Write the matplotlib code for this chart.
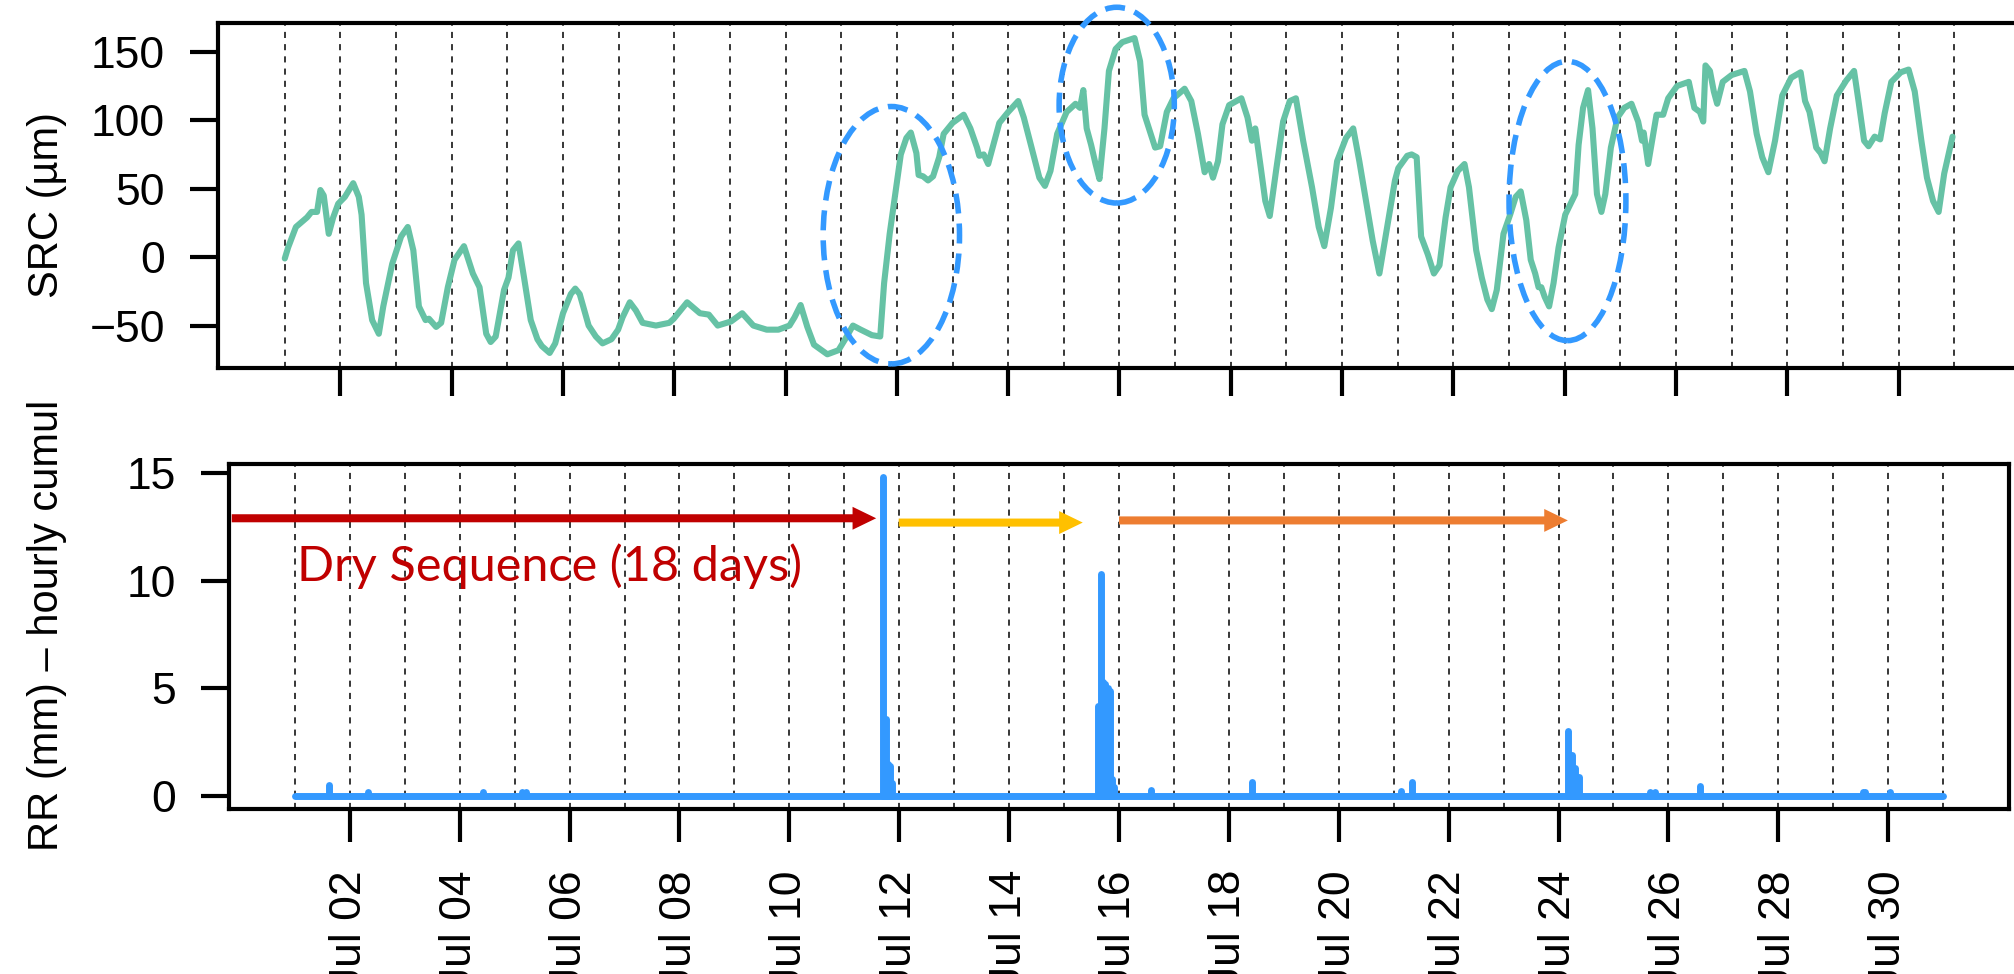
import matplotlib
matplotlib.use("Agg")
import matplotlib.pyplot as plt
from matplotlib.patches import Ellipse, FancyArrowPatch
import numpy as np

# ---------------- data (days since Jul 01 00:00) ----------------
src_day = [0, 0.06, 0.2, 0.4, 0.48, 0.58, 0.64, 0.7, 0.79, 0.87, 0.96, 1.08, 1.23, 1.33, 1.38,
           1.46, 1.57, 1.69, 1.77, 1.93, 2.09, 2.21, 2.31, 2.41, 2.53, 2.59, 2.72, 2.81, 2.93,
           3.05, 3.22, 3.38, 3.5, 3.62, 3.7, 3.79, 3.94, 4.02, 4.1, 4.2, 4.3, 4.42, 4.54, 4.62,
           4.76, 4.86, 5.0, 5.14, 5.22, 5.3, 5.46, 5.59, 5.71, 5.87, 5.99, 6.07, 6.2, 6.31, 6.43,
           6.67, 6.91, 6.99, 7.23, 7.46,
           7.62, 7.78, 8.02, 8.22, 8.42, 8.66, 8.87, 9.07, 9.16, 9.27, 9.39, 9.51, 9.75, 9.95,
           10.07, 10.21, 10.35, 10.55, 10.7, 10.77, 10.87, 10.97, 11.07, 11.17, 11.25, 11.35,
           11.39, 11.47, 11.56, 11.65, 11.76, 11.84, 12.0, 12.2, 12.32, 12.44, 12.48, 12.56,
           12.64, 12.72, 12.84, 13.0, 13.18, 13.28, 13.44, 13.56, 13.66, 13.76, 13.88, 14.05,
           14.21, 14.29, 14.35, 14.41, 14.49, 14.57, 14.64, 14.73, 14.81, 14.93, 15.05, 15.27,
           15.37, 15.45, 15.53, 15.64, 15.73, 15.85, 15.97, 16.17, 16.29, 16.41, 16.53, 16.61,
           16.68, 16.77, 16.85, 16.97, 17.19, 17.3, 17.38, 17.44, 17.54, 17.62, 17.7, 17.82,
           17.94, 18.06, 18.17, 18.3, 18.46, 18.58, 18.68, 18.8, 18.91, 19.07, 19.2, 19.31,
           19.43, 19.55, 19.67, 19.79, 19.95,
           20.01, 20.17, 20.25, 20.34, 20.42, 20.54, 20.65, 20.75, 20.86, 20.95, 21.08, 21.2,
           21.28, 21.41, 21.51, 21.61, 21.69, 21.78, 21.9, 22.02, 22.12, 22.21, 22.31, 22.39,
           22.47, 22.53, 22.58, 22.64, 22.72, 22.8, 22.89, 23.01, 23.13, 23.19, 23.25, 23.33,
           23.42, 23.5, 23.58, 23.66, 23.73, 23.83, 23.95, 24.07, 24.2, 24.32, 24.39, 24.42,
           24.5, 24.58, 24.65, 24.77, 24.86, 25.02, 25.23, 25.33, 25.43, 25.49, 25.53, 25.61,
           25.68, 25.74, 25.84, 26.0, 26.23, 26.33, 26.45, 26.55, 26.66, 26.78, 26.91, 27.07,
           27.24, 27.32, 27.4, 27.52, 27.6, 27.67, 27.77, 27.89, 28.06, 28.2, 28.28, 28.38,
           28.46, 28.57, 28.67, 28.75, 28.87, 29.04, 29.18, 29.29, 29.41, 29.51, 29.62, 29.72,
           29.82, 29.97]
src_val = [-1, 7, 22, 29, 33, 33, 49, 45, 17, 29, 39, 44, 54, 44, 31,
           -19, -46, -56, -36, -5, 15, 22, 5, -36, -46, -45, -51, -48, -22,
           -2, 8, -12, -22, -56, -62, -58, -24, -15, 5, 10, -15, -46, -60, -65,
           -70, -63, -41, -27, -23, -27, -50, -58, -63, -60, -53, -44, -33, -39, -48,
           -50, -48, -45, -33, -41,
           -42, -50, -47, -41, -50, -53, -53, -50, -44, -35, -51, -64, -71, -68,
           -60, -50, -53, -57, -58, -19, 17, 46, 75, 87, 91, 76,
           60, 59, 56, 59, 73, 90, 98, 104, 94, 80, 74, 75,
           68, 80, 98, 106, 114, 102, 77, 58, 52, 63, 90, 106,
           112, 109, 122, 94, 82, 68, 57, 94, 136, 152, 157, 160,
           143, 104, 94, 80, 81, 106, 116, 123, 114, 90, 62, 68,
           58, 70, 97, 111, 116, 102, 85, 94, 65, 41, 30, 65,
           99, 114, 116, 85, 51, 22, 8, 36, 70, 87, 94, 70,
           41, 12, -12, 17, 56,
           65, 74, 75, 73, 15, 2, -12, -6, 29, 51, 63, 68,
           51, 5, -15, -31, -38, -24, 17, 31, 44, 48, 27, -2,
           -12, -22, -22, -29, -36, -19, 7, 31, 41, 46, 82, 109,
           122, 94, 46, 33, 46, 80, 102, 109, 112, 99, 85, 91,
           68, 87, 104, 104, 116, 125, 128, 109, 106, 99, 140, 136,
           121, 112, 128, 133, 136, 121, 90, 73, 62, 85, 118, 131,
           135, 114, 106, 80, 76, 70, 94, 118, 129, 136, 114, 85,
           81, 88, 86, 105, 128, 135, 137, 121, 85, 58, 41, 33,
           61, 88]

# hourly rainfall: hours since Jul 01 00:00 with non-zero values
rain_hour = [15, 32, 82, 99, 101,
             257, 258, 259, 260, 261,
             351, 352, 353, 354, 355, 356, 357, 358,
             374, 418, 483, 488,
             556, 557, 558, 559, 560, 561,
             592, 594, 614, 685, 686, 697]
rain_mm = [0.5, 0.2, 0.2, 0.2, 0.2,
           14.8, 3.6, 1.5, 1.4, 0.6,
           4.2, 10.3, 5.3, 5.2, 5.0, 4.9, 0.8, 0.4,
           0.3, 0.65, 0.25, 0.65,
           3.0, 1.9, 1.9, 1.3, 0.9, 0.9,
           0.2, 0.2, 0.45, 0.2, 0.2, 0.2]
rain_start_day, rain_end_day = 0, 30

grid_days = list(range(0, 31))
tick_days = list(range(1, 30, 2))
tick_labels = ["Jul %02d" % (d + 1) for d in tick_days]

# highlighted episodes (center day, center µm, width days, height µm)
ell_cx = [10.9, 14.95, 23.05]
ell_cy = [16, 111, 41]
ell_w = [2.45, 2.07, 2.1]
ell_h = [188, 143, 204]

# sequence arrows (start day, end day, level mm, colour)
arr_x0 = [-1.15, 10.99, 15.0]
arr_x1 = [10.58, 14.34, 23.17]
arr_y = [12.9, 12.7, 12.8]
arr_col = ["#C00000", "#FFC000", "#ED7D31"]

# ---------------- figure ----------------
W, H = 2015, 974
fig = plt.figure(figsize=(W / 100, H / 100), dpi=100)
plt.rcParams['font.family'] = ['Liberation Sans', 'DejaVu Sans']

def frac(left, top, right, bottom):
    return [left / W, 1 - bottom / H, (right - left) / W, (bottom - top) / H]

ax1 = fig.add_axes(frac(218, 23, 2021, 368))
ax2 = fig.add_axes(frac(229, 464, 2009, 809))

green = "#66C2A5"
blue = "#3399FF"
FS = 32
LFS = 30

for ax in (ax1, ax2):
    ax.set_xlim(-1.2, 31.2)
    ax.vlines(grid_days, 0, 1, transform=ax.get_xaxis_transform(), colors="black",
              linewidth=1.1, linestyles=(0, (4, 4)), zorder=1)
    for s in ax.spines.values():
        s.set_linewidth(3)
    ax.set_xticks(tick_days)
    ax.tick_params(axis="both", which="major", length=20, width=3, pad=18,
                   labelsize=FS, direction="out")

# top panel
ax1.plot(src_day, src_val, color=green, linewidth=4.4, solid_joinstyle="round",
         solid_capstyle="round", zorder=3)
ax1.set_ylim(-81, 171)
ax1.set_yticks([-50, 0, 50, 100, 150])
ax1.set_xticklabels([])
ax1.tick_params(axis="x", length=20)
for cx, cy, w, h in zip(ell_cx, ell_cy, ell_w, ell_h):
    e = Ellipse((cx, cy), w, h, fill=False, edgecolor=blue, linewidth=4,
                linestyle=(0, (3.6, 1.8)), clip_on=False, zorder=4)
    ax1.add_patch(e)

# bottom panel
ax2.plot([rain_start_day, rain_end_day], [0, 0], color=blue, linewidth=5,
         solid_capstyle="round", zorder=3)
rain_day = [h / 24 for h in rain_hour]
lc = ax2.vlines(rain_day, 0, rain_mm, colors=blue, linewidth=5, zorder=3)
lc.set_capstyle("round")
ax2.set_ylim(-0.6, 15.42)
ax2.set_yticks([0, 5, 10, 15])
ax2.set_xticklabels(tick_labels, rotation=90)
ax2.tick_params(axis="x", length=24, pad=20)

for x0, x1, y, c in zip(arr_x0, arr_x1, arr_y, arr_col):
    a = FancyArrowPatch((x0, y), (x1, y),
                        arrowstyle="simple,head_length=17,head_width=16.5,tail_width=5.8",
                        color=c, shrinkA=0, shrinkB=0, linewidth=0, zorder=5,
                        mutation_scale=1)
    ax2.add_patch(a)

ax2.text(0.03, 10.0, "Dry Sequence (18 days)", color="#C00000", fontsize=35,
         family=["Lato", "DejaVu Sans"], ha="left", va="baseline", zorder=5)

fig.text(47 / W, 1 - 205 / H, "SRC (µm)", rotation=90, ha="center", va="center",
         fontsize=LFS)
fig.text(47 / W, 1 - 625 / H, "RR (mm) \u2013 hourly cumul", rotation=90, ha="center",
         va="center", fontsize=LFS)

fig.savefig("out.png", dpi=100)
